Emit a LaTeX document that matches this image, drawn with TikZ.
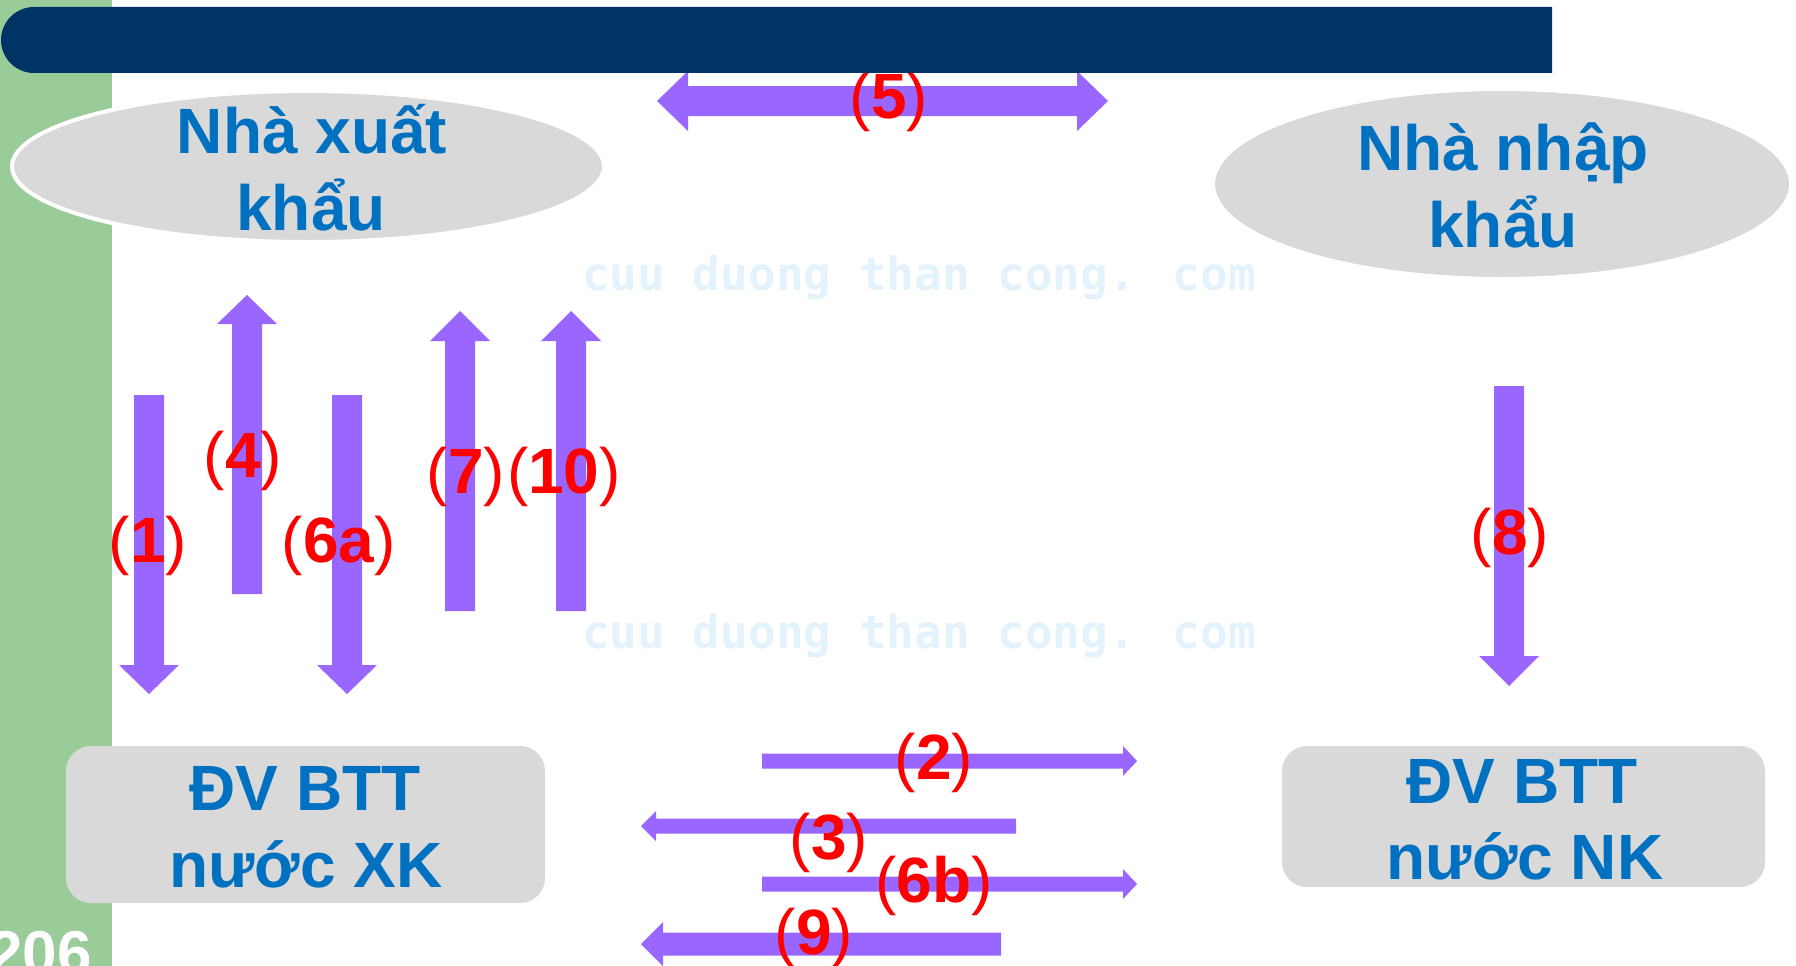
\documentclass[tikz,border=0pt]{standalone}
\usepackage{fontspec}
\setmainfont{Liberation Sans}
\newfontfamily\wmfont{DejaVu Sans Mono}
\usetikzlibrary{calc,shapes.geometric}

\definecolor{stripgreen}{RGB}{153,204,153}
\definecolor{barnavy}{RGB}{0,51,102}
\definecolor{flowpurple}{RGB}{153,102,255}
\definecolor{panelgray}{RGB}{217,217,217}
\definecolor{titleblue}{RGB}{0,112,192}
\definecolor{stepred}{RGB}{255,0,0}
\definecolor{wmblue}{RGB}{228,243,251}

% block arrow from tail #1 to tip #2: half shaft width #3, half head width #4, head length #5
\newcommand\blockarrow[5]{%
  \path ($(#2)!#5!(#1)$) coordinate (#2-base);
  \fill[flowpurple] ($(#1)!#3!90:(#2)$) -- ($(#2-base)!#3!-90:(#1)$)
    -- ($(#2-base)!#4!-90:(#1)$) -- (#2) -- ($(#2-base)!#4!90:(#1)$)
    -- ($(#2-base)!#3!90:(#1)$) -- ($(#1)!#3!-90:(#2)$) -- cycle;}

% step number: regular parentheses round a bold number
\newcommand\steptag[1]{(\textbf{#1})}

\tikzset{
  party/.style={ellipse, fill=panelgray, draw=white, line width=4pt, inner sep=0pt},
  panel/.style={rectangle, rounded corners=25pt, fill=panelgray, inner sep=0pt},
  title/.style={font=\fontsize{64}{77}\selectfont\bfseries, text=titleblue, anchor=base, inner sep=0pt},
  steplbl/.style={font=\fontsize{64}{77}\selectfont, text=stepred, anchor=base, inner sep=0pt},
  watermark/.style={font=\wmfont\bfseries\fontsize{46}{50}\selectfont, text=wmblue, anchor=base west, inner sep=0pt},
}

\begin{document}
\begin{tikzpicture}[x=1pt,y=-1pt]
\useasboundingbox (0,0) rectangle (1796,966);
\clip (0,0) rectangle (1796,966);

% side strip
\fill[stripgreen] (0,0) rectangle (112,966);

% faint watermark lines
\node[watermark] (wm1) at (582,290) {cuu duong than cong. com};
\node[watermark] (wm2) at (582,648) {cuu duong than cong. com};

% parties
\node[party, minimum width=592pt, minimum height=151pt] (exporter) at (308,166.5) {};
\node[title] (exp1) at (312,153) {Nhà xuất};
\node[title] (exp2) at (311,230) {khẩu};

\node[party, minimum width=578pt, minimum height=190pt] (importer) at (1502,184) {};
\node[title] (imp1) at (1503,170) {Nhà nhập};
\node[title] (imp2) at (1503,247) {khẩu};

\node[panel, minimum width=479pt, minimum height=157pt] (fxk) at (305.5,824.5) {};
\node[title] (fxk1) at (305,810) {ĐV BTT};
\node[title] (fxk2) at (306,887) {nước XK};

\node[panel, minimum width=483pt, minimum height=141pt] (fnk) at (1523.5,816.5) {};
\node[title] (fnk1) at (1522,803) {ĐV BTT};
\node[title] (fnk2) at (1525,879) {nước NK};

% arrow end points
\coordinate (a1s) at (149,395);  \coordinate (a1e) at (149,694);
\coordinate (a4s) at (247,594);  \coordinate (a4e) at (247,295);
\coordinate (a6s) at (347,395);  \coordinate (a6e) at (347,694);
\coordinate (a7s) at (460,611);  \coordinate (a7e) at (460,311);
\coordinate (a10s) at (571,611); \coordinate (a10e) at (571,311);
\coordinate (a8s) at (1509,386); \coordinate (a8e) at (1509,686);
\coordinate (a5m) at (882,101);  \coordinate (a5l) at (657,101); \coordinate (a5r) at (1108,101);
\coordinate (a2s) at (762,761);  \coordinate (a2e) at (1137,761);
\coordinate (a3s) at (1016,826); \coordinate (a3e) at (641,826);
\coordinate (a6bs) at (762,884); \coordinate (a6be) at (1137,884);
\coordinate (a9s) at (1001,944); \coordinate (a9e) at (641,944);

% thick flows
\blockarrow{a1s}{a1e}{15pt}{30pt}{29pt}
\blockarrow{a4s}{a4e}{15pt}{30pt}{29pt}
\blockarrow{a6s}{a6e}{15pt}{30pt}{29pt}
\blockarrow{a7s}{a7e}{15pt}{30pt}{30pt}
\blockarrow{a10s}{a10e}{15pt}{30pt}{30pt}
\blockarrow{a8s}{a8e}{15pt}{30pt}{30pt}
\blockarrow{a5m}{a5l}{15pt}{30pt}{31pt}
\blockarrow{a5m}{a5r}{15pt}{30pt}{31pt}

% thin flows between the factors
\blockarrow{a2s}{a2e}{7.5pt}{15pt}{14pt}
\blockarrow{a3s}{a3e}{7.5pt}{15pt}{15pt}
\blockarrow{a6bs}{a6be}{7.5pt}{15pt}{14pt}
\blockarrow{a9s}{a9e}{11.5pt}{22pt}{22pt}

% step numbers
\node[steplbl] (s1) at (148,562) {\steptag{1}};
\node[steplbl] (s4) at (243,477) {\steptag{4}};
\node[steplbl] (s6a) at (339,562) {\steptag{6a}};
\node[steplbl] (s7) at (466,493) {\steptag{7}};
\node[steplbl] (s10) at (564,493) {\steptag{10}};
\node[steplbl] (s5) at (889,118) {\steptag{5}};
\node[steplbl] (s8) at (1510,554) {\steptag{8}};
\node[steplbl] (s2) at (934,779) {\steptag{2}};
\node[steplbl] (s3) at (829,859) {\steptag{3}};
\node[steplbl] (s6b) at (934,902) {\steptag{6b}};
\node[steplbl] (s9) at (814,954) {\steptag{9}};

% title bar
\fill[barnavy] (1552,7) -- (34,7) arc[start angle=90, end angle=270, radius=33pt] -- (1552,73) -- cycle;

% page number
\node[font=\fontsize{62}{70}\selectfont\bfseries, text=white, anchor=base east, inner sep=0pt] (pageno) at (92,974) {206};
\end{tikzpicture}
\end{document}
